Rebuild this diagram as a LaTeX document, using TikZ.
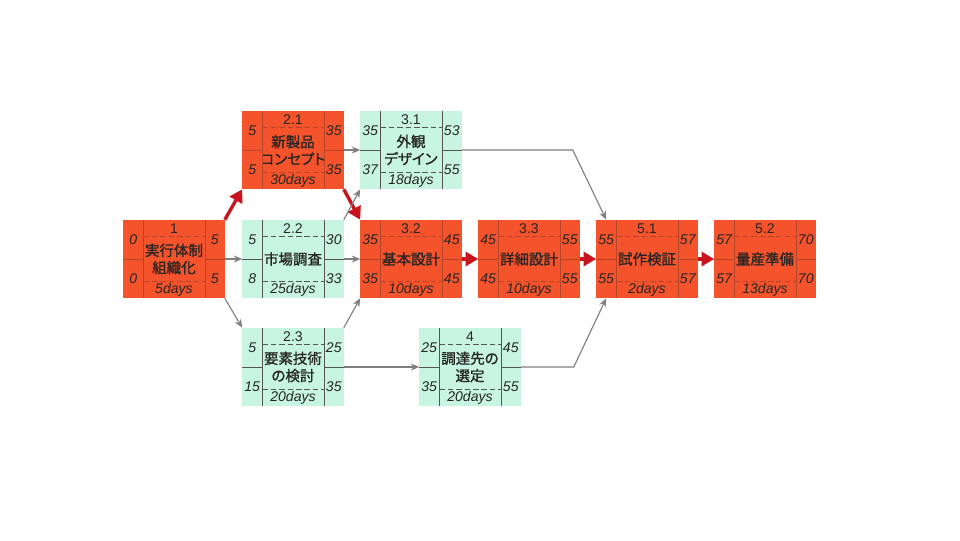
\documentclass[tikz,border=0pt]{standalone}
\usepackage{fontspec}
\setmainfont{Liberation Sans}
\newfontfamily\jpfont[RawFeature=+palt, FakeBold=1.2]{Noto Sans CJK JP}
\usetikzlibrary{arrows.meta}
\definecolor{critfill}{HTML}{F5532B}
\definecolor{normfill}{HTML}{C8F5E1}
\definecolor{critline}{HTML}{B5452A}
\definecolor{normline}{HTML}{555555}
\definecolor{critarrow}{HTML}{C8141E}
\definecolor{normarrow}{HTML}{7F7F7F}
\tikzset{
  actbox/.style={rectangle, minimum width=2.525cm, minimum height=1.95cm, inner sep=0pt, align=center, font=\jpfont\fontsize{10.3}{12.3}\selectfont, text=black!85},
  critbox/.style={actbox, fill=critfill},
  normbox/.style={actbox, fill=normfill},
  critpart/.style={draw=critline, line width=0.4pt},
  normpart/.style={draw=normline, line width=0.4pt},
  numtext/.style={font=\fontsize{10}{12}\selectfont\itshape, inner sep=0pt, text=black!85},
  idtext/.style={font=\fontsize{10}{12}\selectfont, inner sep=0pt, text=black!85},
  critarr/.style={draw=critarrow, line width=2.4pt, -{Triangle[length=9pt,width=10pt]}},
  normarr/.style={draw=normarrow, line width=0.8pt, -{Stealth[length=6pt,width=5pt]}},
}
\newcommand{\actparts}[8]{
  \draw[#8] ([xshift=0.5cm]#1.north west) -- ([xshift=0.5cm]#1.south west);
  \draw[#8] ([xshift=-0.5cm]#1.north east) -- ([xshift=-0.5cm]#1.south east);
  \draw[#8] (#1.west) -- ([xshift=0.5cm]#1.west);
  \draw[#8] (#1.east) -- ([xshift=-0.5cm]#1.east);
  \draw[#8, dash pattern=on 4pt off 2pt] ([xshift=0.5cm,yshift=-0.42cm]#1.north west) -- ([xshift=-0.5cm,yshift=-0.42cm]#1.north east);
  \draw[#8, dash pattern=on 4pt off 2pt] ([xshift=0.5cm,yshift=0.42cm]#1.south west) -- ([xshift=-0.5cm,yshift=0.42cm]#1.south east);
  \node[idtext] (#1id) at ([yshift=-0.22cm]#1.north) {#2};
  \node[numtext] (#1es) at ([xshift=0.25cm,yshift=-0.49cm]#1.north west) {#3};
  \node[numtext] (#1ef) at ([xshift=-0.25cm,yshift=-0.49cm]#1.north east) {#4};
  \node[numtext] (#1ls) at ([xshift=0.25cm,yshift=0.49cm]#1.south west) {#5};
  \node[numtext] (#1lf) at ([xshift=-0.25cm,yshift=0.49cm]#1.south east) {#6};
  \node[numtext] (#1days) at ([yshift=0.22cm]#1.south) {#7};
}
\begin{document}
\begin{tikzpicture}[x=0.025cm, y=-0.025cm]
\useasboundingbox[fill=white] (0,0) rectangle (960,540);
\node[critbox] (act1) at (174,259){実行体制\\組織化};
\actparts{act1}{1}{0}{5}{0}{5}{5days}{critpart}
\node[critbox] (act21) at (293,150){新製品\\コンセプト};
\actparts{act21}{2.1}{5}{35}{5}{35}{30days}{critpart}
\node[normbox] (act22) at (293,259){市場調査};
\actparts{act22}{2.2}{5}{30}{8}{33}{25days}{normpart}
\node[normbox] (act23) at (293,367){要素技術\\の検討};
\actparts{act23}{2.3}{5}{25}{15}{35}{20days}{normpart}
\node[normbox] (act31) at (411,150){外観\\デザイン};
\actparts{act31}{3.1}{35}{53}{37}{55}{18days}{normpart}
\node[critbox] (act32) at (411,259){基本設計};
\actparts{act32}{3.2}{35}{45}{35}{45}{10days}{critpart}
\node[critbox] (act33) at (529,259){詳細設計};
\actparts{act33}{3.3}{45}{55}{45}{55}{10days}{critpart}
\node[normbox] (act4) at (470,367){調達先の\\選定};
\actparts{act4}{4}{25}{45}{35}{55}{20days}{normpart}
\node[critbox] (act51) at (647,259){試作検証};
\actparts{act51}{5.1}{55}{57}{55}{57}{2days}{critpart}
\node[critbox] (act52) at (765,259){量産準備};
\actparts{act52}{5.2}{57}{70}{57}{70}{13days}{critpart}
\draw[critarr](act1.north east) -- (act21.south west);
\draw[critarr](act21.south east) -- (act32.north west);
\draw[critarr](act32.east) -- (act33.west);
\draw[critarr](act33.east) -- (act51.west);
\draw[critarr](act51.east) -- (act52.west);
\draw[normarr](act1.east) -- (act22.west);
\draw[normarr](act1.south east) -- (act23.north west);
\draw[normarr](act21.east) -- (act31.west);
\draw[normarr](act22.north east) -- (act31.south west);
\draw[normarr](act22.east) -- (act32.west);
\draw[normarr](act23.north east) -- (act32.south west);
\draw[normarr](act23.east) -- (act4.west);
\draw[normarr](act31.east) -- ++(111,0) -- ([xshift=0.25cm]act51.north west);
\draw[normarr](act4.east) -- ++(53,0) -- ([xshift=0.25cm]act51.south west);
\end{tikzpicture}
\end{document}
